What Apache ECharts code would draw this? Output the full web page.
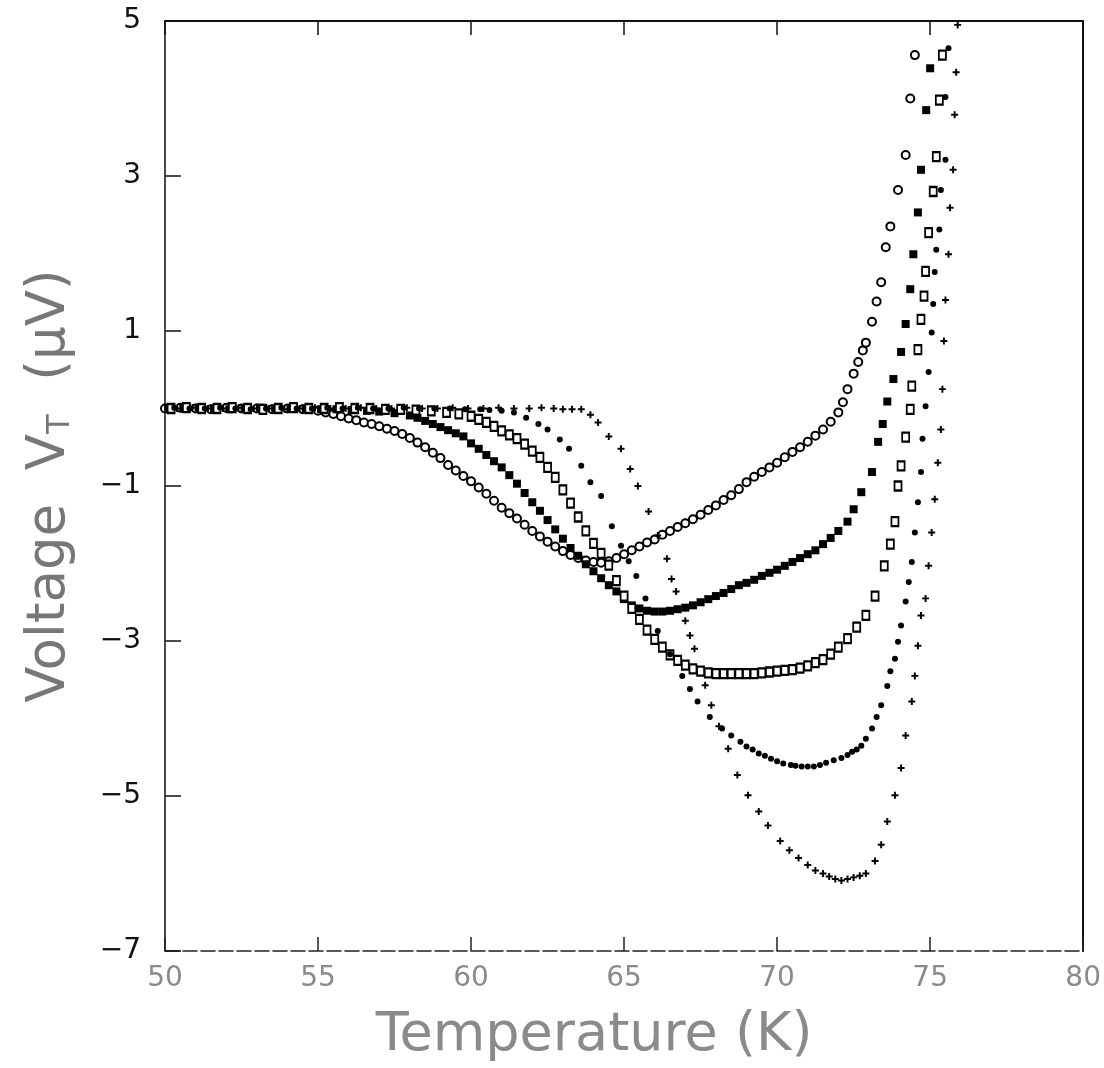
<!DOCTYPE html>
<html>
<head>
<meta charset="utf-8">
<script src="https://cdn.jsdelivr.net/npm/echarts@6/dist/echarts.min.js"></script>
<style>html,body{margin:0;padding:0;background:#fff}#c{width:1104px;height:1068px}</style>
</head>
<body>
<div id="c"></div>
<script>
// Axis ticks
const xTicks = [50, 55, 60, 65, 70, 75, 80];
const yTicks = [-7, -5, -3, -1, 1, 3, 5];

// Series: [temperature K, voltage µV]
const openCircles = [
[50.0,0.00],[50.5,0.01],[51.0,0.00],[51.5,-0.01],[52.0,0.01],[52.5,0.00],[53.0,0.00],[53.5,-0.01],[54.0,0.00],[54.5,-0.01],
[55.0,-0.03],[55.25,-0.05],[55.5,-0.07],[55.75,-0.10],[56.0,-0.13],[56.25,-0.15],[56.5,-0.18],[56.75,-0.20],[57.0,-0.23],[57.25,-0.26],
[57.5,-0.29],[57.75,-0.33],[58.0,-0.38],[58.25,-0.44],[58.5,-0.50],[58.75,-0.57],[59.0,-0.64],[59.25,-0.73],[59.5,-0.80],[59.75,-0.87],
[60.0,-0.94],[60.25,-1.02],[60.5,-1.10],[60.75,-1.19],[61.0,-1.28],[61.25,-1.35],[61.5,-1.42],[61.75,-1.50],[62.0,-1.58],[62.25,-1.65],
[62.5,-1.72],[62.75,-1.78],[63.0,-1.84],[63.25,-1.89],[63.5,-1.93],[63.75,-1.96],[64.0,-1.98],[64.25,-1.99],[64.5,-1.97],[64.75,-1.93],
[65.0,-1.88],[65.25,-1.83],[65.5,-1.78],[65.75,-1.73],[66.0,-1.69],[66.25,-1.63],[66.5,-1.58],[66.75,-1.53],[67.0,-1.48],[67.25,-1.43],
[67.5,-1.37],[67.75,-1.31],[68.0,-1.25],[68.25,-1.18],[68.5,-1.12],[68.75,-1.04],[69.0,-0.95],[69.25,-0.88],[69.5,-0.82],[69.75,-0.76],
[70.0,-0.70],[70.25,-0.63],[70.5,-0.56],[70.75,-0.50],[71.0,-0.43],[71.25,-0.35],[71.5,-0.27],[71.75,-0.17],[72.0,-0.05],[72.15,0.08],
[72.3,0.25],[72.5,0.45],[72.65,0.60],[72.8,0.75],[72.9,0.85],[73.1,1.12],[73.25,1.38],[73.4,1.63],[73.55,2.08],[73.7,2.35],
[73.95,2.82],[74.2,3.27],[74.35,4.00],[74.5,4.56]
];
const filledSquares = [
[50.1,0.01],[50.6,0.00],[51.1,0.01],[51.6,0.00],[52.1,-0.01],[52.6,0.00],[53.1,0.01],[53.6,0.00],[54.1,0.00],[54.6,0.00],
[55.1,-0.01],[55.6,-0.01],[56.1,-0.02],[56.6,-0.03],[57.0,-0.04],[57.5,-0.06],[58.0,-0.09],[58.25,-0.12],[58.5,-0.16],[58.75,-0.20],
[59.0,-0.24],[59.25,-0.28],[59.5,-0.32],[59.75,-0.36],[60.0,-0.45],[60.25,-0.52],[60.5,-0.60],[60.75,-0.68],[61.0,-0.76],[61.25,-0.86],
[61.5,-0.97],[61.75,-1.09],[62.0,-1.21],[62.25,-1.32],[62.5,-1.44],[62.75,-1.56],[63.0,-1.68],[63.25,-1.80],[63.5,-1.90],[63.75,-2.01],
[64.0,-2.10],[64.25,-2.19],[64.5,-2.28],[64.75,-2.36],[65.0,-2.46],[65.25,-2.54],[65.5,-2.58],[65.75,-2.61],[66.0,-2.62],[66.25,-2.62],
[66.5,-2.61],[66.75,-2.59],[67.0,-2.57],[67.25,-2.54],[67.5,-2.50],[67.75,-2.46],[68.0,-2.42],[68.25,-2.38],[68.5,-2.33],[68.75,-2.28],
[69.0,-2.25],[69.25,-2.21],[69.5,-2.16],[69.75,-2.12],[70.0,-2.08],[70.25,-2.03],[70.5,-1.98],[70.75,-1.93],[71.0,-1.88],[71.25,-1.83],
[71.5,-1.75],[71.75,-1.67],[72.0,-1.58],[72.3,-1.46],[72.5,-1.30],[72.75,-1.08],[73.1,-0.82],[73.3,-0.43],[73.45,-0.20],[73.6,0.09],
[73.8,0.38],[74.05,0.73],[74.2,1.09],[74.35,1.54],[74.45,1.99],[74.6,2.53],[74.7,3.08],[74.87,3.85],[75.0,4.39]
];
const openSquares = [
[50.2,0.00],[50.7,0.01],[51.2,0.00],[51.7,0.00],[52.2,0.01],[52.7,0.00],[53.2,-0.01],[53.7,0.00],[54.2,0.01],[54.7,0.00],
[55.2,0.00],[55.7,0.01],[56.2,0.00],[56.7,0.00],[57.2,-0.01],[57.7,-0.01],[58.2,-0.02],[58.7,-0.03],[59.2,-0.05],[59.6,-0.07],
[60.0,-0.10],[60.25,-0.14],[60.5,-0.18],[60.75,-0.23],[61.0,-0.29],[61.25,-0.34],[61.5,-0.39],[61.75,-0.46],[62.0,-0.55],[62.25,-0.63],
[62.5,-0.76],[62.75,-0.89],[63.0,-1.05],[63.25,-1.22],[63.5,-1.40],[63.75,-1.58],[64.0,-1.74],[64.25,-1.87],[64.5,-2.02],[64.75,-2.22],
[65.0,-2.42],[65.25,-2.58],[65.5,-2.72],[65.75,-2.86],[66.0,-2.98],[66.25,-3.08],[66.5,-3.18],[66.75,-3.25],[67.0,-3.31],[67.25,-3.36],
[67.5,-3.39],[67.75,-3.41],[68.0,-3.42],[68.25,-3.42],[68.5,-3.42],[68.75,-3.42],[69.0,-3.42],[69.25,-3.42],[69.5,-3.41],[69.75,-3.40],
[70.0,-3.39],[70.25,-3.38],[70.5,-3.37],[70.75,-3.35],[71.0,-3.32],[71.25,-3.28],[71.5,-3.24],[71.75,-3.17],[72.0,-3.08],[72.3,-2.97],
[72.6,-2.82],[72.9,-2.67],[73.2,-2.42],[73.5,-2.03],[73.7,-1.75],[73.85,-1.46],[73.95,-1.00],[74.05,-0.74],[74.2,-0.37],[74.35,-0.01],
[74.4,0.29],[74.6,0.76],[74.7,1.15],[74.8,1.45],[74.85,1.77],[74.95,2.27],[75.1,2.80],[75.2,3.25],[75.3,3.98],[75.4,4.56]
];
const smallDots = [
[50.3,0.01],[50.8,0.00],[51.3,0.00],[51.8,0.01],[52.3,0.00],[52.8,-0.01],[53.3,0.00],[53.8,0.01],[54.3,0.00],[54.8,0.00],
[55.3,0.01],[55.8,0.00],[56.3,0.01],[56.8,0.00],[57.3,0.00],[57.8,0.01],[58.3,0.00],[58.8,0.00],[59.3,0.00],[59.8,-0.01],
[60.3,-0.01],[60.6,-0.02],[61.0,-0.03],[61.4,-0.05],[61.8,-0.12],[62.2,-0.20],[62.5,-0.27],[62.9,-0.40],[63.2,-0.52],[63.6,-0.74],
[63.9,-0.95],[64.25,-1.13],[64.6,-1.52],[64.9,-1.77],[65.15,-1.97],[65.4,-2.16],[65.7,-2.45],[66.1,-2.87],[66.5,-3.17],[66.9,-3.45],
[67.15,-3.62],[67.4,-3.78],[67.8,-3.98],[68.2,-4.13],[68.5,-4.22],[68.8,-4.30],[69.0,-4.36],[69.2,-4.40],[69.4,-4.45],[69.6,-4.48],
[69.8,-4.52],[70.0,-4.55],[70.2,-4.58],[70.45,-4.60],[70.6,-4.61],[70.8,-4.62],[71.0,-4.62],[71.2,-4.62],[71.4,-4.60],[71.6,-4.57],
[71.85,-4.54],[72.1,-4.51],[72.3,-4.47],[72.45,-4.43],[72.6,-4.40],[72.75,-4.35],[72.9,-4.26],[73.1,-4.13],[73.25,-3.98],[73.4,-3.83],
[73.6,-3.58],[73.7,-3.39],[73.85,-3.23],[73.95,-3.01],[74.05,-2.80],[74.2,-2.49],[74.3,-2.24],[74.4,-1.98],[74.5,-1.60],[74.6,-1.21],
[74.7,-0.82],[74.75,-0.39],[74.85,0.03],[74.95,0.47],[75.05,0.98],[75.1,1.35],[75.15,1.76],[75.2,2.05],[75.3,2.31],[75.35,2.82],
[75.5,3.21],[75.5,4.02],[75.6,4.65]
];
const plusMarks = [
[50.4,0.00],[50.9,0.01],[51.4,0.00],[51.9,0.00],[52.4,0.01],[52.9,0.00],[53.4,0.00],[53.9,-0.01],[54.4,0.00],[54.9,0.01],
[55.4,0.00],[55.9,0.00],[56.4,0.01],[56.9,0.00],[57.4,0.00],[57.9,0.01],[58.4,0.00],[58.9,0.00],[59.4,0.01],[59.9,0.00],
[60.4,0.00],[60.9,0.01],[61.4,0.00],[61.9,0.00],[62.3,0.01],[62.7,0.00],[63.0,-0.01],[63.3,-0.01],[63.6,-0.01],[63.9,-0.08],
[64.15,-0.18],[64.5,-0.36],[64.9,-0.52],[65.2,-0.78],[65.45,-1.00],[65.8,-1.33],[66.1,-1.64],[66.4,-1.94],[66.55,-2.20],[66.7,-2.36],
[67.0,-2.74],[67.15,-2.93],[67.3,-3.10],[67.65,-3.57],[67.85,-3.83],[68.1,-4.10],[68.4,-4.39],[68.7,-4.73],[69.05,-4.99],[69.4,-5.20],
[69.7,-5.38],[70.1,-5.58],[70.4,-5.70],[70.7,-5.80],[71.0,-5.89],[71.25,-5.96],[71.5,-6.00],[71.7,-6.04],[71.9,-6.07],[72.1,-6.09],
[72.3,-6.07],[72.5,-6.05],[72.7,-6.03],[72.9,-6.00],[73.2,-5.84],[73.4,-5.63],[73.6,-5.33],[73.85,-4.99],[74.05,-4.64],[74.2,-4.22],
[74.4,-3.78],[74.5,-3.45],[74.6,-3.06],[74.7,-2.67],[74.85,-2.45],[74.95,-2.03],[75.05,-1.60],[75.15,-1.17],[75.25,-0.70],[75.35,-0.27],
[75.4,0.25],[75.45,0.87],[75.5,1.40],[75.6,1.99],[75.65,2.59],[75.75,3.08],[75.8,3.79],[75.85,4.34],[75.9,4.95]
];

const PLUS = 'path://M0.36,0H0.64V0.36H1V0.64H0.64V1H0.36V0.64H0V0.36H0.36Z';

const chart = echarts.init(document.getElementById('c'), null, {renderer: 'canvas'});
const fmtMinus = v => String(v).replace('-', '\u2212');
const base = {type: 'scatter', xAxisIndex: 0, yAxisIndex: 0, silent: true, animation: false};

chart.setOption({
  backgroundColor: '#ffffff',
  animation: false,
  grid: {left: 165, right: 19, top: 21, bottom: 115, containLabel: false},
  xAxis: [{
    type: 'value', min: xTicks[0], max: xTicks[xTicks.length - 1], interval: 5,
    position: 'bottom',
    name: 'Temperature (K)', nameLocation: 'middle', nameGap: 58,
    nameTextStyle: {fontSize: 54, color: '#8a8a8a', fontFamily: 'DejaVu Sans', padding: [0, 60, 0, 0]},
    axisLine: {show: true, onZero: false, lineStyle: {color: '#222', width: 1.5, type: [14, 4]}},
    axisTick: {show: true, inside: true, length: 14, lineStyle: {color: '#222', width: 1.5}},
    axisLabel: {show: true, fontSize: 28, color: '#8a8a8a', margin: 14, fontFamily: 'DejaVu Sans'},
    splitLine: {show: false}
  }, {
    type: 'value', min: xTicks[0], max: xTicks[xTicks.length - 1], interval: 5,
    position: 'top',
    axisLine: {show: true, onZero: false, lineStyle: {color: '#111', width: 2}},
    axisTick: {show: true, inside: true, length: 14, lineStyle: {color: '#111', width: 1.5}},
    axisLabel: {show: false}, splitLine: {show: false}
  }],
  yAxis: [{
    type: 'value', min: yTicks[0], max: yTicks[yTicks.length - 1], interval: 2,
    position: 'left',
    name: '{a|Voltage  V}{b|T}{a|  (μV)}', nameLocation: 'middle', nameGap: 88,
    nameTextStyle: {
      color: '#777',
      rich: {
        a: {fontSize: 53, color: '#777', fontFamily: 'DejaVu Sans'},
        b: {fontSize: 32, color: '#777', fontFamily: 'DejaVu Sans', verticalAlign: 'bottom', padding: [22, 0, 0, 0]}
      }
    },
    axisLine: {show: true, onZero: false, lineStyle: {color: '#111', width: 1.5}},
    axisTick: {show: true, inside: true, length: 16, lineStyle: {color: '#111', width: 1.5}},
    axisLabel: {show: true, fontSize: 28, color: '#111', margin: 24, fontFamily: 'DejaVu Sans', formatter: fmtMinus},
    splitLine: {show: false}
  }, {
    type: 'value', min: yTicks[0], max: yTicks[yTicks.length - 1], interval: 2,
    position: 'right',
    axisLine: {show: true, onZero: false, lineStyle: {color: '#111', width: 2}},
    axisTick: {show: false}, axisLabel: {show: false}, splitLine: {show: false}
  }],
  series: [
    Object.assign({}, base, {name: 'open circles', data: openCircles, symbol: 'emptyCircle', symbolSize: 8,
      itemStyle: {color: '#000', borderColor: '#000', borderWidth: 2, opacity: 1}}),
    Object.assign({}, base, {name: 'filled squares', data: filledSquares, symbol: 'rect', symbolSize: 8,
      itemStyle: {color: '#000', opacity: 1}}),
    Object.assign({}, base, {name: 'open squares', data: openSquares, symbol: 'emptyRect', symbolSize: [7, 9],
      itemStyle: {color: '#000', borderColor: '#000', borderWidth: 2, opacity: 1}}),
    Object.assign({}, base, {name: 'small dots', data: smallDots, symbol: 'circle', symbolSize: 6,
      itemStyle: {color: '#000', opacity: 1}}),
    Object.assign({}, base, {name: 'plus marks', data: plusMarks, symbol: PLUS, symbolSize: 7,
      itemStyle: {color: '#000', opacity: 1}})
  ]
});
</script>
</body>
</html>
